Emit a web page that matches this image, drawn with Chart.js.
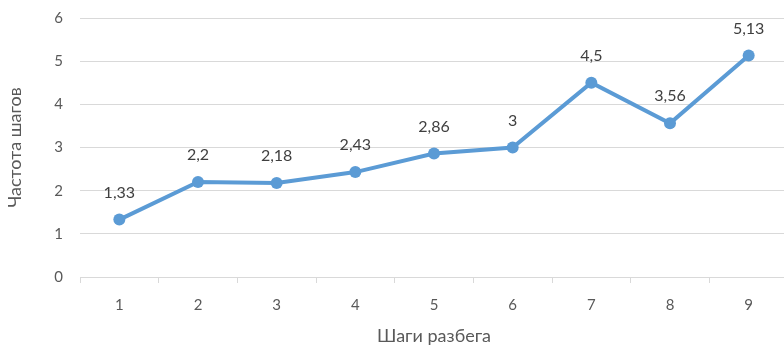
<!DOCTYPE html>
<html>
<head>
<meta charset="utf-8">
<script src="https://cdn.jsdelivr.net/npm/chart.js@4/dist/chart.umd.min.js"></script>
<style>
  html, body { margin: 0; padding: 0; background: #fff; overflow: hidden; }
  canvas { display: block; }
</style>
</head>
<body>
<canvas id="c" width="788" height="347"></canvas>
<script>
// Шаги разбега и частота шагов
const steps = ['1', '2', '3', '4', '5', '6', '7', '8', '9'];
const frequency = [1.33, 2.2, 2.18, 2.43, 2.86, 3, 4.5, 3.56, 5.13];
const yTicks = [0, 1, 2, 3, 4, 5, 6];

const FONT = 'Lato, "Open Sans", sans-serif';
const TEXT = '#595959';
const GRID = '#d9d9d9';

// Подписи значений над точками (десятичная запятая)
const valueLabels = {
  id: 'valueLabels',
  afterDatasetsDraw(chart) {
    const ctx = chart.ctx;
    const meta = chart.getDatasetMeta(0);
    ctx.save();
    ctx.font = '16px ' + FONT;
    ctx.fillStyle = '#404040';
    ctx.textAlign = 'center';
    ctx.textBaseline = 'middle';
    meta.data.forEach((pt, i) => {
      const v = chart.data.datasets[0].data[i];
      ctx.fillText(String(v).replace('.', ','), pt.x, pt.y - 27);
    });
    ctx.restore();
  }
};

new Chart(document.getElementById('c'), {
  type: 'line',
  data: {
    labels: steps,
    datasets: [{
      data: frequency,
      borderColor: '#5b9bd5',
      backgroundColor: '#5b9bd5',
      borderWidth: 4,
      pointRadius: 6,
      pointHoverRadius: 6,
      pointBorderWidth: 0,
      tension: 0
    }]
  },
  options: {
    responsive: false,
    animation: false,
    events: [],
    layout: { autoPadding: false, padding: { top: 18, right: 0, left: 0, bottom: 0 } },
    plugins: { legend: { display: false }, tooltip: { enabled: false } },
    scales: {
      x: {
        offset: true,
        grid: {
          offset: true,
          drawOnChartArea: false,
          drawTicks: true,
          tickLength: 6,
          color: GRID
        },
        border: { display: true, color: GRID },
        ticks: { color: TEXT, font: { family: FONT, size: 15 }, padding: 13, maxRotation: 0 },
        title: {
          display: true,
          text: 'Шаги разбега',
          color: TEXT,
          font: { family: FONT, size: 18 },
          padding: { top: 0, bottom: 0 }
        },
        afterFit(scale) {
          scale.height = 70;
          scale.paddingLeft = 0;
          scale.paddingRight = 0;
        }
      },
      y: {
        min: 0,
        max: 6,
        afterBuildTicks(scale) { scale.ticks = yTicks.map(v => ({ value: v })); },
        grid: { color: GRID, drawTicks: false },
        border: { display: false },
        ticks: { color: TEXT, font: { family: FONT, size: 15 }, padding: 17 },
        title: {
          display: true,
          text: 'Частота шагов',
          color: TEXT,
          font: { family: FONT, size: 18 },
          padding: { top: 4, bottom: 0 }
        },
        afterFit(scale) {
          scale.width = 80;
          scale.paddingTop = 0;
          scale.paddingBottom = 0;
        }
      }
    }
  },
  plugins: [valueLabels]
});
</script>
</body>
</html>
